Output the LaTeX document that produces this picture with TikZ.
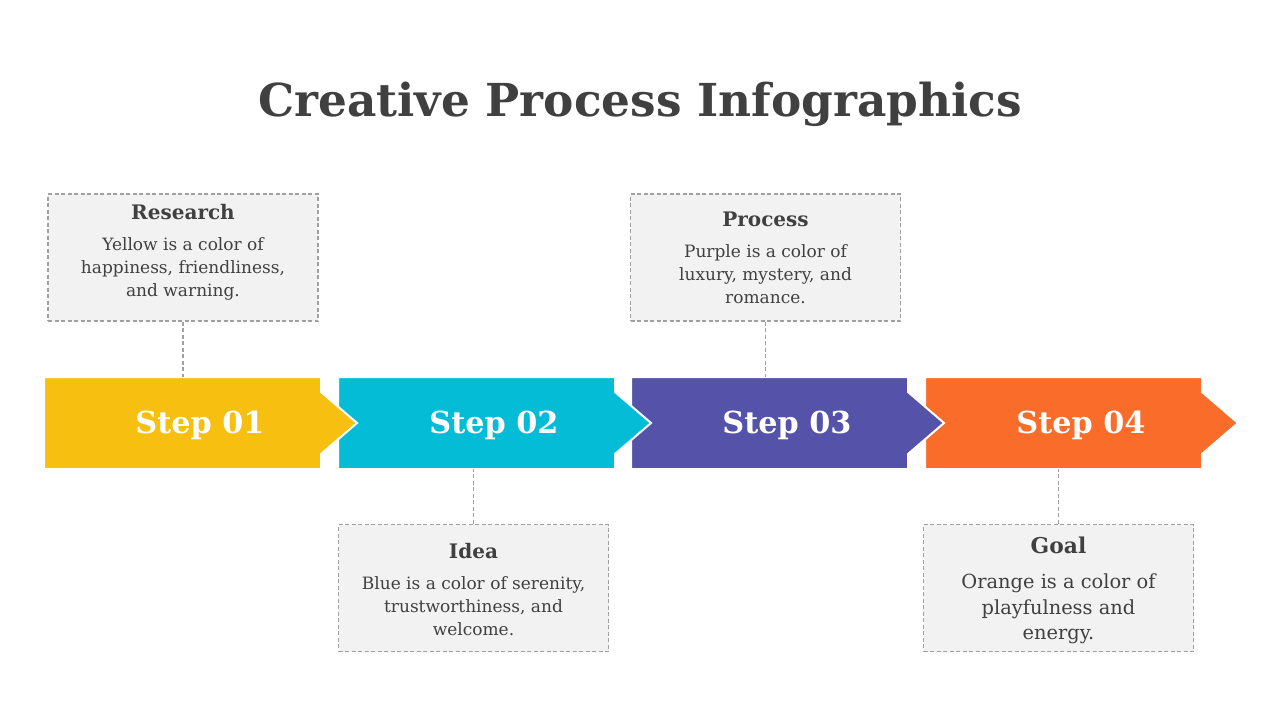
\documentclass[tikz,border=0pt]{standalone}
\usepackage{fontspec}
\setmainfont{DejaVu Serif}
\usetikzlibrary{positioning}
\definecolor{ink}{HTML}{404040}
\definecolor{boxfill}{HTML}{F2F2F2}
\definecolor{boxline}{HTML}{A0A0A0}
\definecolor{stepA}{HTML}{F7C010}
\definecolor{stepB}{HTML}{05BCD7}
\definecolor{stepC}{HTML}{5452A9}
\definecolor{stepD}{HTML}{F96C2A}

\begin{document}
\begin{tikzpicture}[x=1pt, y=-1pt,
    chevron/.style={draw=white, line width=2pt, line join=miter},
    steptxt/.style={text=white, font=\bfseries\fontsize{30.3}{36}\selectfont, minimum width=313pt, minimum height=92pt, inner sep=0pt},
    infobox/.style={draw=boxline, dash pattern=on 4pt off 2.5pt, fill=boxfill, line width=1.5pt, minimum width=270pt, minimum height=127pt, inner sep=0pt},
    boxtxt/.style={align=center, inner sep=0pt, text=ink, font=\fontsize{17}{23}\selectfont},
    boxhead/.style={font=\bfseries\fontsize{20}{24}\selectfont},
    link/.style={draw=boxline, dash pattern=on 4pt off 2.5pt, line width=1.5pt},
]
\useasboundingbox (0,0) rectangle (1280,720);

% ── Title ──
\node[text=ink, font=\bfseries\fontsize{45.4}{50}\selectfont] (title) at (640, 104) {Creative Process Infographics};

% ── Chevrons (drawn right to left so each tip sits on the next one) ──
\foreach \x/\col in {925/stepD, 631/stepC, 338/stepB, 44/stepA} {
    \fill[chevron, fill=\col] (\x, 377) -- ++(277, 0) -- ++(0, 15) -- ++(36, 31) -- ++(-36, 31) -- ++(0, 15) -- ++(-277, 0) -- cycle;
}
\node[steptxt] (s1) at (200, 423) {\raisebox{-2pt}[\height][\depth]{Step 01}};
\node[steptxt] (s2) at (494, 423) {\raisebox{-2pt}[\height][\depth]{Step 02}};
\node[steptxt] (s3) at (787, 423) {\raisebox{-2pt}[\height][\depth]{Step 03}};
\node[steptxt] (s4) at (1081, 423) {\raisebox{-2pt}[\height][\depth]{Step 04}};

% ── Info boxes ──
\node[infobox] (r1) at (183, 257.5) {};
\node[infobox] (r2) at (473.5, 588) {};
\node[infobox] (r3) at (765.5, 257.5) {};
\node[infobox] (r4) at (1058.5, 588) {};

\node[boxtxt] (t1) at (183, 252.5) {{\bfseries\fontsize{20}{24}\selectfont Research}\\[8pt]
    Yellow is a color of\\ happiness, friendliness,\\ and warning.};
\node[boxtxt] (t2) at (473.5, 589.5) {{\bfseries\fontsize{20}{24}\selectfont Idea}\\[8pt]
    Blue is a color of serenity,\\ trustworthiness, and\\ welcome.};
\node[boxtxt] (t3) at (765.5, 257.5) {{\bfseries\fontsize{20}{24}\selectfont Process}\\[8pt]
    Purple is a color of\\ luxury, mystery, and\\ romance.};
\node[boxtxt, font=\fontsize{19.4}{25.5}\selectfont] (t4) at (1058.5, 590.5) {{\bfseries\fontsize{21.8}{24}\selectfont Goal}\\[10pt]
    Orange is a color of\\ playfulness and\\ energy.};

% ── Links ──
\draw[link] (r1.south) -- (r1.south |- s1.north);
\draw[link] (r2.north) -- (r2.north |- s2.south);
\draw[link] (r3.south) -- (r3.south |- s3.north);
\draw[link] (r4.north) -- (r4.north |- s4.south);

\end{tikzpicture}
\end{document}
